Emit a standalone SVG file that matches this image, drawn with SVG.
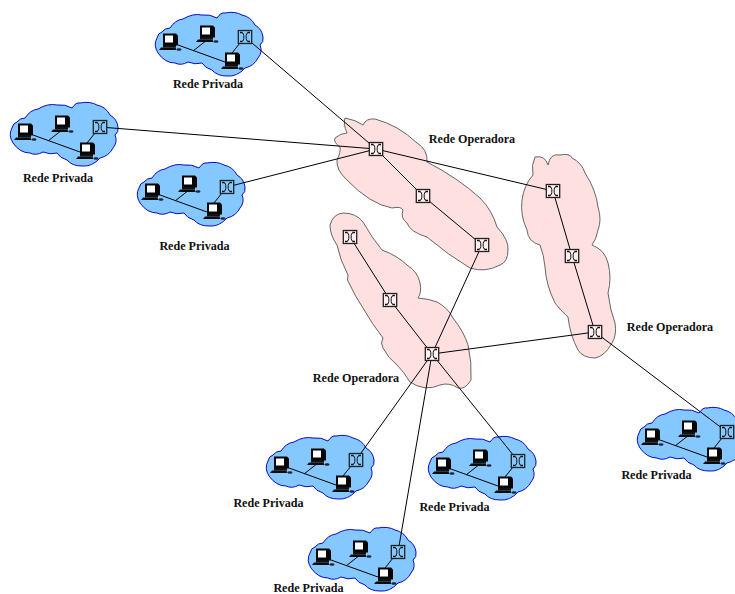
<svg xmlns="http://www.w3.org/2000/svg" xmlns:xlink="http://www.w3.org/1999/xlink" width="735" height="594" viewBox="0 0 735 594">
<style>
.lbl{font-family:"Liberation Serif","Times New Roman",serif;font-weight:bold;font-size:12.1px;fill:#111;text-anchor:middle}
.op{fill:#ffe0e0;stroke:#666;stroke-width:1}
.cl{fill:#84c8ff;stroke:#0a0ac8;stroke-width:1}
.ln{fill:none;stroke:#000;stroke-width:1}
.swb{fill:#84c8ff}
.swp{fill:#fff0f0}
</style>
<defs>
<g id="sw">
<rect x="-6.700" y="-6.500" width="13.400" height="13" stroke="#222" stroke-width="1.300"/>
<path d="M-3.500-4.500Q-1-4-1.200-1.500V1.500Q-1 4-3.500 4.500M3.500-4.500Q1-4 1.200-1.500V1.500Q1 4 3.500 4.500" fill="none" stroke="#111" stroke-width="1"/>
<path d="M-5-4.500h2.500M2.500-4.500h2.500M-5 4.500h2.500M2.500 4.500h2.500" stroke="#111" stroke-width="1.600"/>
</g>
<g id="pc">
<path d="M-7-8.500H6L8-6.500V3.500H-7Z" fill="#050505"/>
<rect x="-5" y="-6.500" width="8" height="7" fill="#fff"/>
<path d="M-7 3H6V5.500H-7Z" fill="#111"/>
<path d="M-9 5.500H5.500L6.500 8H-11Z" fill="#0a0a0a"/>
<ellipse cx="9" cy="7.500" rx="2.500" ry="1.300" fill="#223"/>
</g>
<g id="lan">
<path class="cl" d="M-88 1Q-87-4-83-5Q-80-9-75-9Q-70-17-62-18Q-52-24-43-22Q-35-23-28-19Q-24-25-20-24Q-10-26-3-22Q6-20 10-12Q17-8 18 0Q19 5 15 8Q18 15 13 21Q9 29 0 31Q-8 40-18 39Q-28 39-33 33Q-40 31-43 26Q-50 28-57 25Q-64 29-70 26Q-80 26-87 16Q-92 8-88 1Z"/>
<path class="ln" d="M-67 8L-20 25M-38 3L-52 14M-5 6L-13 16"/>
<use xlink:href="#pc" href="#pc" x="-75" y="5"/>
<use xlink:href="#pc" href="#pc" x="-38" y="-3"/>
<use xlink:href="#pc" href="#pc" x="-13" y="24"/>
</g>
</defs>
<g id="op-a"><path class="op" d="M345 118Q356 120 363 125Q366 118 375 119Q398 125 417 143Q428 150 427 162Q458 178 480 198Q492 210 497 227Q509 240 508 250Q508 262 500 265Q485 273 470 268Q448 255 427 237Q410 232 407 223Q400 218 403 210Q401 206 392 208Q370 204 347 180Q336 170 337 160Q341 152 340 147Q333 142 335 138Q341 133 347 133Q343 124 345 118Z"/></g>
<g id="op-b"><path class="op" d="M343 213Q356 213 363 222Q372 238 382 250Q398 256 407 265Q418 272 420 283Q422 292 418 298Q430 299 437 302Q448 308 453 318Q464 332 468 345Q472 362 471 380Q465 390 458 388Q449 382 440 385Q425 392 410 382Q404 372 397 365Q388 358 383 348Q380 343 383 338Q372 324 363 308Q355 296 350 285Q346 280 348 275Q340 260 337 245Q330 235 330 225Q333 214 343 213Z"/></g>
<g id="op-c"><path class="op" d="M535 157Q545 155 548 165Q550 153 560 155Q570 153 572 158Q582 163 585 173Q596 190 598 207Q602 220 598 230Q596 240 592 245Q605 250 608 263Q612 278 608 293Q610 310 615 323Q617 335 612 343Q605 356 595 358Q583 358 578 350Q570 335 568 317Q560 310 555 303Q546 285 545 267Q544 255 540 245Q528 242 527 230Q520 215 522 200Q524 185 533 175Q531 165 535 157Z"/></g>
<g id="lan-1"><use xlink:href="#lan" href="#lan" x="245" y="37"/></g>
<g id="lan-2"><use xlink:href="#lan" href="#lan" x="100" y="127"/></g>
<g id="lan-3"><use xlink:href="#lan" href="#lan" x="227" y="187"/></g>
<g id="lan-4"><use xlink:href="#lan" href="#lan" x="356" y="460"/></g>
<g id="lan-5"><use xlink:href="#lan" href="#lan" x="518" y="461"/></g>
<g id="lan-6"><use xlink:href="#lan" href="#lan" x="398" y="552"/></g>
<g id="lan-7"><use xlink:href="#lan" href="#lan" x="727" y="432"/></g>
<g id="connectors" class="ln">
<path d="M245 37L376 149L423 196L482 245L432 354L595 332L727 432"/>
<path d="M100 127L376 149L553 191L572 256L595 332"/>
<path d="M227 187L376 149"/>
<path d="M350 237L390 300L432 354L356 460"/>
<path d="M432 354L518 461"/>
<path d="M432 354L398 552"/>
</g>
<g id="switches-lan" class="swb">
<use xlink:href="#sw" href="#sw" x="245" y="37"/>
<use xlink:href="#sw" href="#sw" x="100" y="127"/>
<use xlink:href="#sw" href="#sw" x="227" y="187"/>
<use xlink:href="#sw" href="#sw" x="356" y="460"/>
<use xlink:href="#sw" href="#sw" x="518" y="461"/>
<use xlink:href="#sw" href="#sw" x="398" y="552"/>
<use xlink:href="#sw" href="#sw" x="727" y="432"/>
</g>
<g id="switches-op" class="swp">
<use xlink:href="#sw" href="#sw" x="376" y="149"/>
<use xlink:href="#sw" href="#sw" x="423" y="196"/>
<use xlink:href="#sw" href="#sw" x="482" y="245"/>
<use xlink:href="#sw" href="#sw" x="350" y="237"/>
<use xlink:href="#sw" href="#sw" x="390" y="300"/>
<use xlink:href="#sw" href="#sw" x="432" y="354"/>
<use xlink:href="#sw" href="#sw" x="553" y="191"/>
<use xlink:href="#sw" href="#sw" x="572" y="256"/>
<use xlink:href="#sw" href="#sw" x="595" y="332"/>
</g>
<g id="labels">
<text class="lbl" x="208" y="88">Rede Privada</text>
<text class="lbl" x="58" y="182">Rede Privada</text>
<text class="lbl" x="194.500" y="250">Rede Privada</text>
<text class="lbl" x="268.500" y="507">Rede Privada</text>
<text class="lbl" x="454.500" y="511">Rede Privada</text>
<text class="lbl" x="656.500" y="479">Rede Privada</text>
<text class="lbl" x="308.500" y="592">Rede Privada</text>
<text class="lbl" x="472" y="143">Rede Operadora</text>
<text class="lbl" x="356" y="382">Rede Operadora</text>
<text class="lbl" x="670" y="331">Rede Operadora</text>
</g>
</svg>
